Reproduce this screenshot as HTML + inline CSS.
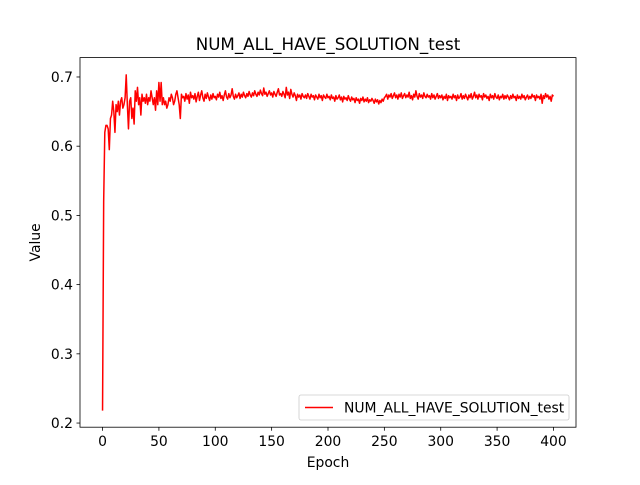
<!DOCTYPE html>
<html><head><meta charset="utf-8"><style>
body{margin:0;background:#fff;}
svg text{font-family:"DejaVu Sans","Liberation Sans",sans-serif;}
</style></head><body>
<svg id="chart" width="640" height="480" xmlns="http://www.w3.org/2000/svg"></svg>
<script>
const titleText = "NUM_ALL_HAVE_SOLUTION_test";
const xTicks = [0,50,100,150,200,250,300,350,400];
const yTicks = [0.2,0.3,0.4,0.5,0.6,0.7];
const values = [
0.218,0.52,0.62,0.63,0.63,0.625,0.595,0.64,0.645,0.665,
0.65,0.62,0.66,0.65,0.665,0.645,0.665,0.67,0.655,0.66,
0.67,0.703,0.66,0.625,0.665,0.67,0.64,0.655,0.632,0.68,
0.665,0.685,0.66,0.67,0.645,0.675,0.665,0.67,0.662,0.675,
0.66,0.67,0.665,0.68,0.67,0.66,0.67,0.652,0.68,0.66,
0.692,0.665,0.692,0.66,0.67,0.66,0.665,0.655,0.66,0.67,
0.665,0.675,0.67,0.66,0.665,0.675,0.68,0.67,0.66,0.64,
0.675,0.67,0.672,0.665,0.676,0.668,0.674,0.662,0.678,0.67,
0.673,0.668,0.676,0.664,0.672,0.678,0.666,0.674,0.68,0.67,
0.665,0.675,0.669,0.677,0.671,0.666,0.674,0.668,0.676,0.67,
0.672,0.667,0.675,0.671,0.678,0.669,0.673,0.666,0.674,0.68,
0.671,0.668,0.676,0.67,0.674,0.683,0.672,0.668,0.675,0.67,
0.673,0.677,0.669,0.675,0.671,0.678,0.673,0.67,0.676,0.672,
0.679,0.674,0.671,0.677,0.673,0.68,0.675,0.672,0.678,0.674,
0.681,0.676,0.673,0.684,0.675,0.678,0.672,0.676,0.68,0.674,
0.677,0.671,0.679,0.675,0.672,0.678,0.683,0.674,0.676,0.672,
0.679,0.675,0.67,0.685,0.674,0.678,0.669,0.682,0.675,0.671,
0.677,0.673,0.666,0.675,0.671,0.674,0.668,0.676,0.672,0.67,
0.674,0.669,0.676,0.672,0.668,0.675,0.671,0.673,0.667,0.674,
0.671,0.668,0.675,0.67,0.673,0.666,0.674,0.671,0.669,0.675,
0.67,0.672,0.667,0.674,0.669,0.671,0.665,0.673,0.668,0.67,
0.674,0.667,0.671,0.664,0.672,0.668,0.67,0.666,0.673,0.668,
0.665,0.671,0.667,0.669,0.663,0.67,0.666,0.668,0.662,0.669,
0.666,0.671,0.664,0.668,0.665,0.67,0.663,0.667,0.665,0.669,
0.666,0.662,0.668,0.664,0.667,0.661,0.666,0.663,0.668,0.665,
0.67,0.672,0.675,0.668,0.674,0.671,0.676,0.669,0.673,0.677,
0.67,0.674,0.668,0.675,0.671,0.677,0.669,0.673,0.676,0.67,
0.674,0.671,0.678,0.669,0.673,0.667,0.675,0.671,0.68,0.672,
0.668,0.676,0.671,0.674,0.669,0.677,0.672,0.67,0.675,0.671,
0.673,0.668,0.676,0.67,0.674,0.668,0.672,0.676,0.669,0.673,
0.67,0.674,0.667,0.672,0.669,0.675,0.666,0.673,0.67,0.672,
0.668,0.675,0.67,0.673,0.666,0.674,0.669,0.671,0.676,0.668,
0.673,0.669,0.675,0.671,0.667,0.674,0.67,0.676,0.668,0.672,
0.678,0.67,0.674,0.668,0.675,0.671,0.673,0.667,0.676,0.671,
0.674,0.669,0.672,0.666,0.675,0.67,0.673,0.668,0.676,0.671,
0.669,0.674,0.667,0.672,0.67,0.675,0.668,0.673,0.669,0.674,
0.671,0.667,0.673,0.669,0.675,0.67,0.672,0.666,0.674,0.669,
0.672,0.668,0.675,0.67,0.673,0.667,0.671,0.674,0.668,0.672,
0.669,0.675,0.671,0.673,0.666,0.674,0.67,0.672,0.668,0.675,
0.662,0.673,0.669,0.676,0.671,0.674,0.668,0.672,0.665,0.674,
0.672
];
const svg = document.getElementById('chart');
const NS = "http://www.w3.org/2000/svg";
const L=80,R=576,T=57.6,B=427.2;
const xMin=-20,xMax=420,yMin=0.194,yMax=0.728;
function xs(v){return L+(v-xMin)/(xMax-xMin)*(R-L);}
function ys(v){return B-(v-yMin)/(yMax-yMin)*(B-T);}
function mk(tag,attrs,parent){const e=document.createElementNS(NS,tag);for(const k in attrs)e.setAttribute(k,attrs[k]);(parent||svg).appendChild(e);return e;}
let d=values.map((v,i)=>(i?'L':'M')+xs(i).toFixed(2)+','+ys(v).toFixed(2)).join('');
const line=mk('path',{d:d,fill:'none',stroke:'#ff0000','stroke-width':1.5,'stroke-linejoin':'round'});


const frame=mk('rect',{x:L,y:T,width:R-L,height:B-T,fill:'none',stroke:'#000','stroke-width':0.8});


xTicks.forEach(t=>{
  const x=xs(t);
  mk('line',{x1:x,x2:x,y1:B,y2:B+3.5,stroke:'#000','stroke-width':0.8});
  const tx=mk('text',{x:x,y:B+19,'font-size':13.9,'text-anchor':'middle'});tx.textContent=t;
  
  
});
yTicks.forEach(t=>{
  const y=ys(t);
  mk('line',{x1:L-3.5,x2:L,y1:y,y2:y,stroke:'#000','stroke-width':0.8});
  const tx=mk('text',{x:L-7,y:y+5,'font-size':13.9,'text-anchor':'end'});tx.textContent=t.toFixed(1);
  
  
});
const ttl=mk('text',{x:(L+R)/2,y:50,'font-size':16.7,'text-anchor':'middle'});ttl.textContent=titleText;


const xl=mk('text',{x:(L+R)/2,y:467,'font-size':13.9,'text-anchor':'middle'});xl.textContent='Epoch';


const yl=mk('text',{x:0,y:0,'font-size':13.9,'text-anchor':'middle',transform:'translate(40,'+((T+B)/2)+') rotate(-90)'});yl.textContent='Value';


const lg=mk('g',{});


mk('rect',{x:299,y:395,width:270,height:25,rx:2,fill:'#fff',stroke:'#ccc','stroke-width':0.8},lg);
mk('line',{x1:305,x2:333,y1:407.5,y2:407.5,stroke:'#ff0000','stroke-width':1.5},lg);
const lt=mk('text',{x:344,y:412.5,'font-size':13.9},lg);lt.textContent=titleText;


</script>
</body></html>
